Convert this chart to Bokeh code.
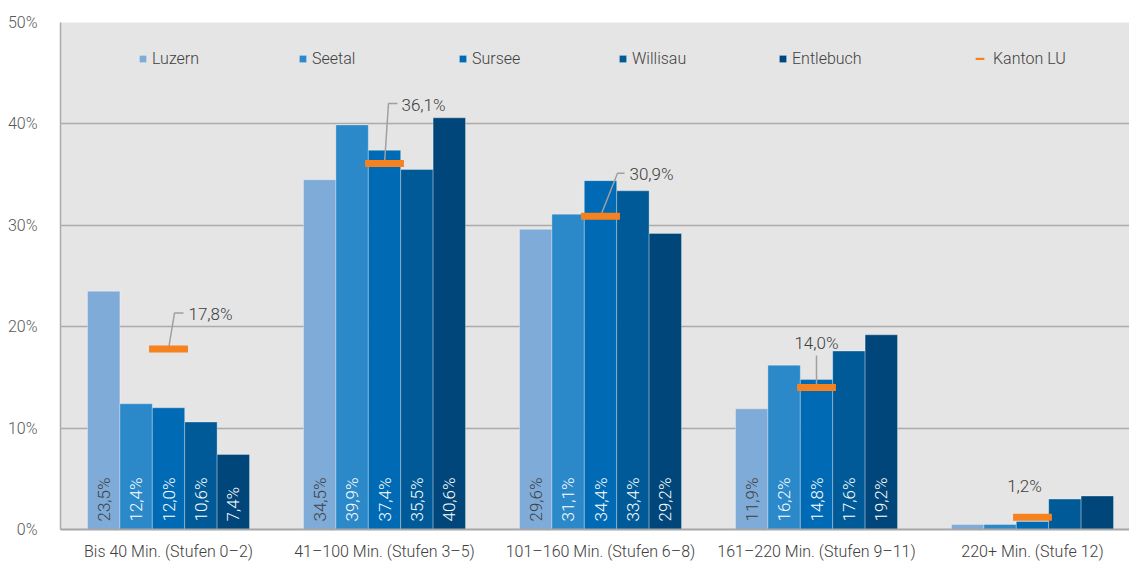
import numpy as np
from bokeh.plotting import figure
from bokeh.models import Range1d, FixedTicker, Legend, LegendItem, CustomJSTickFormatter
from bokeh.core.properties import value
from bokeh.embed import file_html
from bokeh.resources import INLINE

# ---------------- data ----------------
categories = ["Bis 40 Min. (Stufen 0–2)", "41–100 Min. (Stufen 3–5)",
              "101–160 Min. (Stufen 6–8)", "161–220 Min. (Stufen 9–11)",
              "220+ Min. (Stufe 12)"]
series = ["Luzern", "Seetal", "Sursee", "Willisau", "Entlebuch"]
luzern = [23.5, 34.5, 29.6, 11.9, 0.5]
seetal = [12.4, 39.9, 31.1, 16.2, 0.5]
sursee = [12.0, 37.4, 34.4, 14.8, 0.8]
willisau = [10.6, 35.5, 33.4, 17.6, 3.0]
entlebuch = [7.4, 40.6, 29.2, 19.2, 3.3]
kanton_lu = [17.8, 36.1, 30.9, 14.0, 1.2]
kanton_name = "Kanton LU"
y_ticks = [0, 10, 20, 30, 40, 50]

# ---------------- layout / style ----------------
colors = ["#7fabd8", "#2b89c9", "#006ab4", "#005a98", "#00467a"]
inbar_text_colors = ["#404040", "white", "white", "white", "white"]
orange = "#f5821f"
FONT = "'Roboto Light', Roboto"
W, H = 1129, 563
BL, BR, BT, BB = 60, 0, 22, 32
AXIS_PANEL = 34
FRAME_W, FRAME_H = W - BL - BR, H - BT - AXIS_PANEL
CAT_PX = 216.0
BAR_W = 0.15
ppx = CAT_PX
ppy = FRAME_H / 50.0

p = figure(width=W, height=H, output_backend="svg", toolbar_location=None,
           x_range=Range1d(0, FRAME_W / CAT_PX), y_range=Range1d(0, 50),
           min_border_left=BL, min_border_right=BR, min_border_top=BT,
           min_border_bottom=BB)
p.background_fill_color = "#e5e5e5"
p.border_fill_color = "white"
p.outline_line_color = None
p.xgrid.grid_line_color = None
p.ygrid.grid_line_color = "#ababab"
p.ygrid.grid_line_width = 1.4
p.ygrid.ticker = FixedTicker(ticks=y_ticks)

p.yaxis.ticker = FixedTicker(ticks=y_ticks)
p.yaxis.formatter = CustomJSTickFormatter(code="return tick + '%';")
p.yaxis.axis_line_color = "#ababab"
p.yaxis.axis_line_width = 1.5
p.yaxis.major_tick_line_color = None
p.yaxis.minor_tick_line_color = None
p.yaxis.major_label_standoff = 17
p.yaxis.major_label_text_font_size = "16px"
p.yaxis.major_label_text_color = "#595959"
p.yaxis.major_label_text_font = FONT

centers = [i + 0.5 for i in range(len(categories))]
p.xaxis.ticker = FixedTicker(ticks=centers)
p.xaxis.major_label_overrides = {c: lab for c, lab in zip(centers, categories)}
p.xaxis.axis_line_color = "#a6a6a6"
p.xaxis.axis_line_width = 2
p.xaxis.major_tick_line_color = None
p.xaxis.minor_tick_line_color = None
p.xaxis.major_label_standoff = 6
p.xaxis.major_label_text_font_size = "16px"
p.xaxis.major_label_text_color = "#404040"
p.xaxis.major_label_text_font = FONT

values = [luzern, seetal, sursee, willisau, entlebuch]
bar_renderers = []
for j, (name, vals) in enumerate(zip(series, values)):
    xs = [c + (j - 2) * BAR_W for c in centers]
    r = p.vbar(x=xs, top=vals, width=BAR_W, bottom=0, fill_color=colors[j],
               line_color="white", line_alpha=0.3, line_width=1)
    bar_renderers.append(r)
    # in-bar labels (not for the last group)
    lx = xs[:4]
    labs = [f"{v:.1f}".replace(".", ",") + "%" for v in vals[:4]]
    p.text(x=lx, y=[0] * len(lx), text=labs, angle=np.pi / 2,
           text_align="left", text_baseline="middle", y_offset=-8,
           text_font_size="17px", text_color=inbar_text_colors[j],
           text_font=value(FONT))

# callouts for Kanton LU (pixel offsets from the marker centre)
callout_px = [
    [(0, 0), (6, -36), (15, -36)],
    [(0, 0), (4, -60), (13, -60)],
    [(0, 0), (17, -43), (24, -43)],
    [(0, 0), (0, -32)],
    None,
]
label_px = [(20, -35, "left"), (17, -58, "left"), (29, -42, "left"),
            (0, -45, "center"), (-8, -31, "center")]

mx, my = [], []
for c, v, pts in zip(centers, kanton_lu, callout_px):
    if pts is None:
        continue
    mx.append([c + dx / ppx for dx, dy in pts])
    my.append([v - dy / ppy for dx, dy in pts])
p.multi_line(xs=mx, ys=my, line_color="#a0a0a0", line_width=1.5)

kr = p.rect(x=centers, y=kanton_lu, width=0.18, height=7, height_units="screen",
            fill_color=orange, line_color=None)

for align in ["left", "center"]:
    tx, ty, tt = [], [], []
    for c, v, (dx, dy, al) in zip(centers, kanton_lu, label_px):
        if al != align:
            continue
        tx.append(c + dx / ppx)
        ty.append(v - dy / ppy)
        tt.append(f"{v:.1f}".replace(".", ",") + "%")
    p.text(x=tx, y=ty, text=tt, text_align=align, text_baseline="middle",
           text_font_size="17px", text_color="#404040", text_font=value(FONT))

# legends
LEG_Y = FRAME_H - 46
leg1 = Legend(items=[LegendItem(label=s, renderers=[r]) for s, r in zip(series, bar_renderers)],
              orientation="horizontal", location=(78, LEG_Y),
              glyph_width=9, glyph_height=9, label_standoff=5, label_width=146,
              label_height=20, spacing=0, padding=0, margin=0,
              background_fill_alpha=0, border_line_alpha=0,
              label_text_font_size="16px", label_text_color="#404040",
              label_text_font=FONT)
leg2 = Legend(items=[LegendItem(label=kanton_name, renderers=[kr])],
              orientation="horizontal", location=(914, LEG_Y),
              glyph_width=11, glyph_height=3, label_standoff=8,
              label_height=20, spacing=0, padding=0, margin=0,
              background_fill_alpha=0, border_line_alpha=0,
              label_text_font_size="16px", label_text_color="#404040",
              label_text_font=FONT)
p.add_layout(leg1)
p.add_layout(leg2)

open("out.html", "w").write(file_html(p, INLINE))
